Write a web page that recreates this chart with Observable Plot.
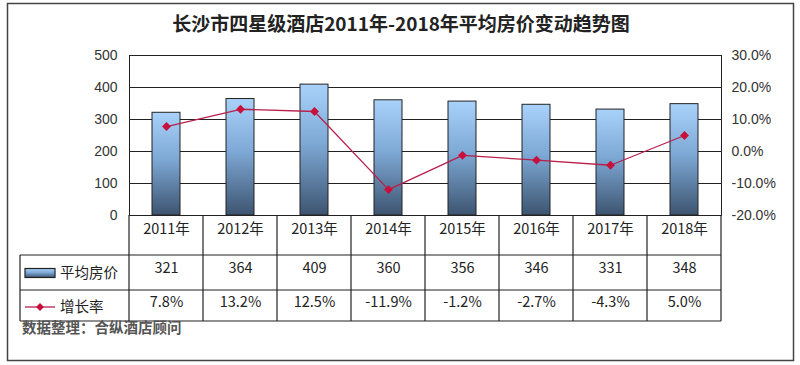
<!DOCTYPE html>
<html>
<head>
<meta charset="utf-8">
<script src="https://cdn.jsdelivr.net/npm/d3@7"></script>
<script src="https://cdn.jsdelivr.net/npm/@observablehq/plot@0.6"></script>
<style>
  html, body { margin: 0; padding: 0; background: #fff; }
  #chart { width: 800px; height: 365px; position: relative; }
  svg { overflow: visible; }
</style>
</head>
<body>
<div id="chart"></div>
<script>
const title = "长沙市四星级酒店2011年-2018年平均房价变动趋势图";
const source = "数据整理：合纵酒店顾问";
const years = ["2011年","2012年","2013年","2014年","2015年","2016年","2017年","2018年"];
const price = [321, 364, 409, 360, 356, 346, 331, 348];
const growth = [7.8, 13.2, 12.5, -11.9, -1.2, -2.7, -4.3, 5.0];
const growthLabels = ["7.8%","13.2%","12.5%","-11.9%","-1.2%","-2.7%","-4.3%","5.0%"];
const leftTicks = [0, 100, 200, 300, 400, 500];
const rightTicks = [-20, -10, 0, 10, 20, 30];
const seriesNames = ["平均房价", "增长率"];

// right-axis (percent) mapped onto left-axis units: -20% -> 0, 30% -> 500
const pctToY = p => (p + 20) * 10;

const rows = years.map((y, i) => ({year: y, price: price[i], growth: growth[i], gLabel: growthLabels[i]}));

const font = "'Liberation Sans', 'Noto Sans CJK SC', sans-serif";
const tableFont = "'Noto Sans CJK SC', 'Liberation Sans', sans-serif";

const plot = Plot.plot({
  width: 800,
  height: 365,
  marginLeft: 129,
  marginRight: 79,
  marginTop: 55,
  marginBottom: 150,
  style: {fontFamily: font, fontSize: "14px", color: "#333", background: "#fff", overflow: "visible"},
  x: {type: "band", domain: years, padding: 0, axis: null, label: null},
  y: {domain: [0, 500], axis: null, label: null},
  marks: [
    Plot.gridY(leftTicks, {stroke: "#222", strokeOpacity: 1, strokeWidth: 1}),
    Plot.barY(rows, {x: "year", y: "price", insetLeft: 23, insetRight: 23, fill: "url(#barGrad)", stroke: "#222", strokeWidth: 1}),
    Plot.frame({stroke: "#222", strokeWidth: 1}),
    Plot.axisY(leftTicks, {anchor: "left", label: null, tickSize: 0, tickPadding: 12, fontSize: 14, fill: "#333"}),
    Plot.axisY(rightTicks.map(pctToY), {anchor: "right", label: null, tickSize: 0, tickPadding: 10, fontSize: 14, fill: "#333",
      tickFormat: d => (d / 10 - 20).toFixed(1) + "%"}),
    Plot.line(rows, {x: "year", y: d => pctToY(d.growth), stroke: "#b8204a", strokeWidth: 1.3}),
    Plot.dot(rows, {x: "year", y: d => pctToY(d.growth), symbol: "diamond2", r: 4, fill: "#c8103c", stroke: "none"}),
    // table text
    Plot.text(rows, {x: "year", text: "year", frameAnchor: "bottom", dy: 18, fontSize: 14.5, fontFamily: tableFont, fill: "#222"}),
    Plot.text(rows, {x: "year", text: d => String(d.price), frameAnchor: "bottom", dy: 57, fontSize: 14.5, fontFamily: tableFont, fill: "#222"}),
    Plot.text(rows, {x: "year", text: "gLabel", frameAnchor: "bottom", dy: 91, fontSize: 14.5, fontFamily: tableFont, fill: "#222"})
  ]
});

document.getElementById("chart").appendChild(plot);

const svg = d3.select(plot);
const defs = svg.insert("defs", ":first-child");
const g = defs.append("linearGradient").attr("id", "barGrad").attr("x1", 0).attr("y1", 0).attr("x2", 0).attr("y2", 1);
g.append("stop").attr("offset", "0%").attr("stop-color", "#a9d2fa");
g.append("stop").attr("offset", "45%").attr("stop-color", "#7ea9d6");
g.append("stop").attr("offset", "100%").attr("stop-color", "#3d5470");

const xs = plot.scale("x");
const bw = xs.bandwidth;
const xEnd = xs.apply(years[years.length - 1]) + bw;
const yBase = 215, yRow1 = 255, yRow2 = 290, yRow3 = 321, xLeft = 20;
const tbl = svg.append("g").attr("stroke", "#222").attr("stroke-width", 1.2).attr("fill", "none");
[yRow1, yRow2, yRow3].forEach(yy => tbl.append("line").attr("x1", xLeft).attr("x2", xEnd).attr("y1", yy).attr("y2", yy));
years.forEach(y => {
  const xx = xs.apply(y);
  tbl.append("line").attr("x1", xx).attr("x2", xx).attr("y1", yBase).attr("y2", yRow3);
});
tbl.append("line").attr("x1", xEnd).attr("x2", xEnd).attr("y1", yBase).attr("y2", yRow3);
tbl.append("line").attr("x1", xLeft).attr("x2", xLeft).attr("y1", yRow1).attr("y2", yRow3);

const extra = svg.append("g").attr("text-anchor", "start");
// legend in table
extra.append("rect").attr("x", 25).attr("y", 268.5).attr("width", 30).attr("height", 9)
  .attr("fill", "url(#barGrad)").attr("stroke", "#222").attr("stroke-width", 1.2);
extra.append("text").attr("x", 60).attr("y", 273).attr("dy", "0.35em").attr("font-family", tableFont)
  .attr("font-size", 14.5).attr("fill", "#222").text(seriesNames[0]);
extra.append("line").attr("x1", 25).attr("x2", 55).attr("y1", 307).attr("y2", 307).attr("stroke", "#b8204a").attr("stroke-width", 1.3);
extra.append("path").attr("d", d3.symbol(d3.symbolDiamond2, 40)()).attr("transform", "translate(40,307)").attr("fill", "#c8103c");
extra.append("text").attr("x", 60).attr("y", 307).attr("dy", "0.35em").attr("font-family", tableFont)
  .attr("font-size", 14.5).attr("fill", "#222").text(seriesNames[1]);

// title
extra.append("text").attr("x", 401).attr("y", 24).attr("dy", "0.35em").attr("text-anchor", "middle")
  .attr("font-family", "'Noto Sans CJK SC', sans-serif").attr("font-weight", "bold").attr("font-size", 19)
  .attr("fill", "#222").text(title);

// source
extra.append("text").attr("x", 22).attr("y", 328).attr("dy", "0.35em")
  .attr("font-family", "'Noto Sans CJK SC', sans-serif").attr("font-size", 14.5).attr("font-weight", "bold")
  .attr("fill", "#555").text(source);

// outer border
extra.append("rect").attr("x", 7.5).attr("y", 3.5).attr("width", 786).attr("height", 357)
  .attr("fill", "none").attr("stroke", "#444").attr("stroke-width", 1.5);
</script>
</body>
</html>
